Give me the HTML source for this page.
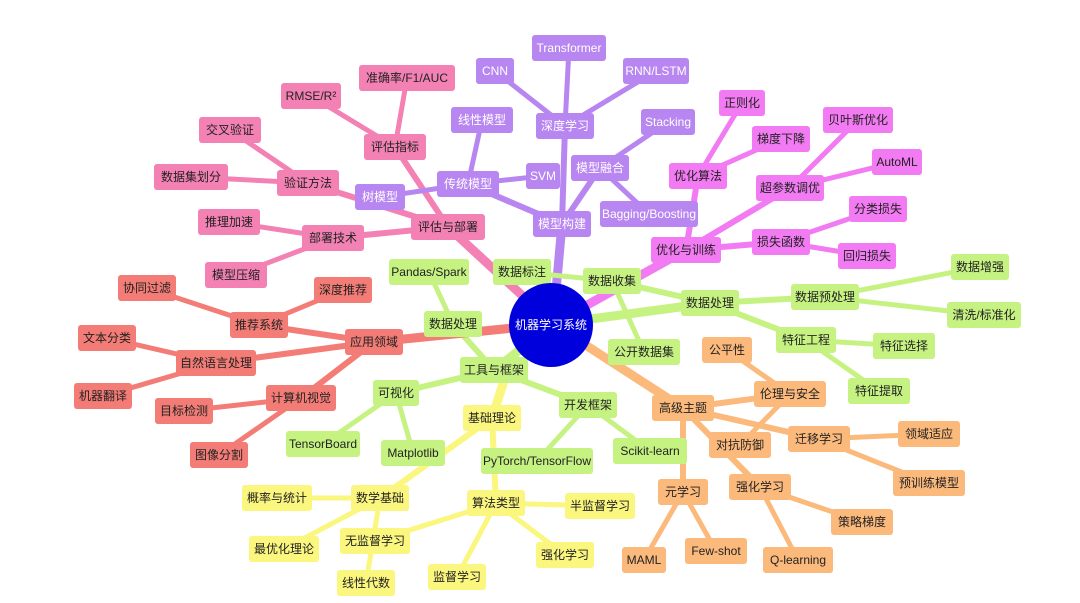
<!DOCTYPE html>
<html><head><meta charset="utf-8"><style>
html,body{margin:0;padding:0;background:#fff;}
svg{display:block;}
text{font-family:"Liberation Sans","Noto Sans CJK SC",sans-serif;font-size:12px;text-anchor:middle;fill:#222;}
.w{fill:#fff;}
line{stroke-linecap:round;}
.P line{stroke:#b886f0}.K line{stroke:#f481b4}.M line{stroke:#f27af2}.G line{stroke:#c6f282}.R line{stroke:#f47c76}.Y line{stroke:#faf67e}.O line{stroke:#fbb97c}
.P rect{fill:#b886f0}.K rect{fill:#f481b4}.M rect{fill:#f27af2}.G rect{fill:#c6f282}.R rect{fill:#f47c76}.Y rect{fill:#faf67e}.O rect{fill:#fbb97c}
rect{stroke:none}
</style></head><body>
<svg width="1080" height="603" viewBox="0 0 1080 603" xmlns="http://www.w3.org/2000/svg">
<!-- edges -->
<g class="K">
<line x1="553" y1="324" x2="448" y2="227" stroke-width="9"/>
<line x1="448" y1="227" x2="395" y2="147" stroke-width="6"/>
<line x1="395" y1="147" x2="311" y2="96" stroke-width="5"/>
<line x1="395" y1="147" x2="407" y2="78" stroke-width="5"/>
<line x1="448" y1="227" x2="308" y2="183" stroke-width="6"/>
<line x1="308" y1="183" x2="230" y2="130" stroke-width="5"/>
<line x1="308" y1="183" x2="191" y2="177" stroke-width="5"/>
<line x1="448" y1="227" x2="333" y2="238" stroke-width="6"/>
<line x1="333" y1="238" x2="229" y2="222" stroke-width="5"/>
<line x1="333" y1="238" x2="236" y2="275" stroke-width="5"/>
</g>
<g class="P">
<line x1="553" y1="324" x2="562" y2="224" stroke-width="9"/>
<line x1="562" y1="224" x2="468" y2="184" stroke-width="6"/>
<line x1="468" y1="184" x2="482" y2="120" stroke-width="5"/>
<line x1="468" y1="184" x2="543" y2="176" stroke-width="5"/>
<line x1="468" y1="184" x2="380" y2="197" stroke-width="5"/>
<line x1="562" y1="224" x2="565" y2="126" stroke-width="6"/>
<line x1="565" y1="126" x2="495" y2="71" stroke-width="5"/>
<line x1="565" y1="126" x2="569" y2="48" stroke-width="5"/>
<line x1="565" y1="126" x2="656" y2="71" stroke-width="5"/>
<line x1="562" y1="224" x2="600" y2="168" stroke-width="6"/>
<line x1="600" y1="168" x2="668" y2="122" stroke-width="5"/>
<line x1="600" y1="168" x2="649" y2="214" stroke-width="5"/>
</g>
<g class="M">
<line x1="553" y1="324" x2="686" y2="250" stroke-width="9"/>
<line x1="686" y1="250" x2="698" y2="176" stroke-width="6"/>
<line x1="698" y1="176" x2="742" y2="103" stroke-width="5"/>
<line x1="698" y1="176" x2="781" y2="139" stroke-width="5"/>
<line x1="686" y1="250" x2="790" y2="188" stroke-width="6"/>
<line x1="790" y1="188" x2="858" y2="120" stroke-width="5"/>
<line x1="790" y1="188" x2="897" y2="162" stroke-width="5"/>
<line x1="686" y1="250" x2="781" y2="242" stroke-width="6"/>
<line x1="781" y1="242" x2="878" y2="209" stroke-width="5"/>
<line x1="781" y1="242" x2="867" y2="256" stroke-width="5"/>
</g>
<g class="G">
<line x1="553" y1="324" x2="710" y2="303" stroke-width="9"/>
<line x1="710" y1="303" x2="612" y2="281" stroke-width="6"/>
<line x1="612" y1="281" x2="522" y2="272" stroke-width="5"/>
<line x1="612" y1="281" x2="644" y2="352" stroke-width="5"/>
<line x1="710" y1="303" x2="825" y2="297" stroke-width="6"/>
<line x1="825" y1="297" x2="980" y2="267" stroke-width="5"/>
<line x1="825" y1="297" x2="984" y2="315" stroke-width="5"/>
<line x1="710" y1="303" x2="806" y2="340" stroke-width="6"/>
<line x1="806" y1="340" x2="904" y2="346" stroke-width="5"/>
<line x1="806" y1="340" x2="879" y2="391" stroke-width="5"/>
<line x1="553" y1="324" x2="494" y2="370" stroke-width="9"/>
<line x1="494" y1="370" x2="453" y2="324" stroke-width="6"/>
<line x1="453" y1="324" x2="429" y2="272" stroke-width="5"/>
<line x1="494" y1="370" x2="396" y2="393" stroke-width="6"/>
<line x1="396" y1="393" x2="323" y2="444" stroke-width="5"/>
<line x1="396" y1="393" x2="413" y2="453" stroke-width="5"/>
<line x1="494" y1="370" x2="588" y2="405" stroke-width="6"/>
<line x1="588" y1="405" x2="537" y2="461" stroke-width="5"/>
<line x1="588" y1="405" x2="650" y2="451" stroke-width="5"/>
</g>
<g class="R">
<line x1="553" y1="324" x2="374" y2="342" stroke-width="9"/>
<line x1="374" y1="342" x2="259" y2="325" stroke-width="6"/>
<line x1="259" y1="325" x2="147" y2="288" stroke-width="5"/>
<line x1="259" y1="325" x2="343" y2="290" stroke-width="5"/>
<line x1="374" y1="342" x2="216" y2="363" stroke-width="6"/>
<line x1="216" y1="363" x2="107" y2="338" stroke-width="5"/>
<line x1="216" y1="363" x2="103" y2="396" stroke-width="5"/>
<line x1="374" y1="342" x2="301" y2="398" stroke-width="6"/>
<line x1="301" y1="398" x2="184" y2="411" stroke-width="5"/>
<line x1="301" y1="398" x2="219" y2="455" stroke-width="5"/>
</g>
<g class="Y">
<line x1="510" y1="362" x2="492" y2="418" stroke-width="9"/>
<line x1="492" y1="418" x2="380" y2="498" stroke-width="6"/>
<line x1="380" y1="498" x2="277" y2="498" stroke-width="5"/>
<line x1="380" y1="498" x2="284" y2="549" stroke-width="5"/>
<line x1="380" y1="498" x2="366" y2="583" stroke-width="5"/>
<line x1="492" y1="418" x2="496" y2="503" stroke-width="6"/>
<line x1="496" y1="503" x2="600" y2="506" stroke-width="5"/>
<line x1="496" y1="503" x2="375" y2="541" stroke-width="5"/>
<line x1="496" y1="503" x2="565" y2="555" stroke-width="5"/>
<line x1="496" y1="503" x2="457" y2="577" stroke-width="5"/>
</g>
<g class="O">
<line x1="553" y1="324" x2="683" y2="408" stroke-width="9"/>
<line x1="683" y1="408" x2="790" y2="394" stroke-width="6"/>
<line x1="790" y1="394" x2="727" y2="350" stroke-width="5"/>
<line x1="790" y1="394" x2="740" y2="445" stroke-width="5"/>
<line x1="683" y1="408" x2="819" y2="439" stroke-width="6"/>
<line x1="819" y1="439" x2="929" y2="434" stroke-width="5"/>
<line x1="819" y1="439" x2="929" y2="483" stroke-width="5"/>
<line x1="683" y1="408" x2="683" y2="492" stroke-width="6"/>
<line x1="683" y1="492" x2="644" y2="560" stroke-width="5"/>
<line x1="683" y1="492" x2="716" y2="551" stroke-width="5"/>
<line x1="683" y1="408" x2="760" y2="487" stroke-width="6"/>
<line x1="760" y1="487" x2="862" y2="522" stroke-width="5"/>
<line x1="760" y1="487" x2="798" y2="560" stroke-width="5"/>
</g>
<!-- nodes -->
<g class="P">
<rect x="532" y="35" width="74" height="26" rx="3"/><text class="w" x="569" y="52">Transformer</text>
<rect x="476" y="58" width="38" height="26" rx="3"/><text class="w" x="495" y="75">CNN</text>
<rect x="623" y="58" width="66" height="26" rx="3"/><text class="w" x="656" y="75">RNN/LSTM</text>
<rect x="536" y="113" width="58" height="26" rx="3"/><text class="w" x="565" y="130">深度学习</text>
<rect x="451" y="107" width="62" height="26" rx="3"/><text class="w" x="482" y="124">线性模型</text>
<rect x="641" y="109" width="54" height="26" rx="3"/><text class="w" x="668" y="126">Stacking</text>
<rect x="526" y="163" width="34" height="26" rx="3"/><text class="w" x="543" y="180">SVM</text>
<rect x="437" y="171" width="62" height="26" rx="3"/><text class="w" x="468" y="188">传统模型</text>
<rect x="571" y="155" width="58" height="26" rx="3"/><text class="w" x="600" y="172">模型融合</text>
<rect x="355" y="184" width="50" height="26" rx="3"/><text class="w" x="380" y="201">树模型</text>
<rect x="600" y="201" width="98" height="26" rx="3"/><text class="w" x="649" y="218">Bagging/Boosting</text>
<rect x="533" y="211" width="58" height="26" rx="3"/><text class="w" x="562" y="228">模型构建</text>
</g>
<g class="K">
<rect x="359" y="65" width="96" height="26" rx="3"/><text x="407" y="82">准确率/F1/AUC</text>
<rect x="281" y="83" width="60" height="26" rx="3"/><text x="311" y="100">RMSE/R²</text>
<rect x="199" y="117" width="62" height="26" rx="3"/><text x="230" y="134">交叉验证</text>
<rect x="364" y="134" width="62" height="26" rx="3"/><text x="395" y="151">评估指标</text>
<rect x="154" y="164" width="74" height="26" rx="3"/><text x="191" y="181">数据集划分</text>
<rect x="277" y="170" width="62" height="26" rx="3"/><text x="308" y="187">验证方法</text>
<rect x="198" y="209" width="62" height="26" rx="3"/><text x="229" y="226">推理加速</text>
<rect x="302" y="225" width="62" height="26" rx="3"/><text x="333" y="242">部署技术</text>
<rect x="411" y="214" width="74" height="26" rx="3"/><text x="448" y="231">评估与部署</text>
<rect x="205" y="262" width="62" height="26" rx="3"/><text x="236" y="279">模型压缩</text>
</g>
<g class="M">
<rect x="719" y="90" width="46" height="26" rx="3"/><text x="742" y="107">正则化</text>
<rect x="752" y="126" width="58" height="26" rx="3"/><text x="781" y="143">梯度下降</text>
<rect x="823" y="107" width="70" height="26" rx="3"/><text x="858" y="124">贝叶斯优化</text>
<rect x="872" y="149" width="50" height="26" rx="3"/><text x="897" y="166">AutoML</text>
<rect x="669" y="163" width="58" height="26" rx="3"/><text x="698" y="180">优化算法</text>
<rect x="756" y="175" width="68" height="26" rx="3"/><text x="790" y="192">超参数调优</text>
<rect x="849" y="196" width="58" height="26" rx="3"/><text x="878" y="213">分类损失</text>
<rect x="752" y="229" width="58" height="26" rx="3"/><text x="781" y="246">损失函数</text>
<rect x="838" y="243" width="58" height="26" rx="3"/><text x="867" y="260">回归损失</text>
<rect x="651" y="237" width="70" height="26" rx="3"/><text x="686" y="254">优化与训练</text>
</g>
<g class="G">
<rect x="493" y="259" width="58" height="26" rx="3"/><text x="522" y="276">数据标注</text>
<rect x="583" y="268" width="58" height="26" rx="3"/><text x="612" y="285">数据收集</text>
<rect x="951" y="254" width="58" height="26" rx="3"/><text x="980" y="271">数据增强</text>
<rect x="681" y="290" width="58" height="26" rx="3"/><text x="710" y="307">数据处理</text>
<rect x="791" y="284" width="68" height="26" rx="3"/><text x="825" y="301">数据预处理</text>
<rect x="947" y="302" width="74" height="26" rx="3"/><text x="984" y="319">清洗/标准化</text>
<rect x="776" y="327" width="60" height="26" rx="3"/><text x="806" y="344">特征工程</text>
<rect x="873" y="333" width="62" height="26" rx="3"/><text x="904" y="350">特征选择</text>
<rect x="608" y="339" width="72" height="26" rx="3"/><text x="644" y="356">公开数据集</text>
<rect x="848" y="378" width="62" height="26" rx="3"/><text x="879" y="395">特征提取</text>
<rect x="389" y="259" width="80" height="26" rx="3"/><text x="429" y="276">Pandas/Spark</text>
<rect x="424" y="311" width="58" height="26" rx="3"/><text x="453" y="328">数据处理</text>
<rect x="460" y="357" width="68" height="26" rx="3"/><text x="494" y="374">工具与框架</text>
<rect x="373" y="380" width="46" height="26" rx="3"/><text x="396" y="397">可视化</text>
<rect x="559" y="392" width="58" height="26" rx="3"/><text x="588" y="409">开发框架</text>
<rect x="286" y="431" width="74" height="26" rx="3"/><text x="323" y="448">TensorBoard</text>
<rect x="381" y="440" width="64" height="26" rx="3"/><text x="413" y="457">Matplotlib</text>
<rect x="481" y="448" width="112" height="26" rx="3"/><text x="537" y="465">PyTorch/TensorFlow</text>
<rect x="613" y="438" width="74" height="26" rx="3"/><text x="650" y="455">Scikit-learn</text>
</g>
<g class="R">
<rect x="118" y="275" width="58" height="26" rx="3"/><text x="147" y="292">协同过滤</text>
<rect x="314" y="277" width="58" height="26" rx="3"/><text x="343" y="294">深度推荐</text>
<rect x="230" y="312" width="58" height="26" rx="3"/><text x="259" y="329">推荐系统</text>
<rect x="78" y="325" width="58" height="26" rx="3"/><text x="107" y="342">文本分类</text>
<rect x="345" y="329" width="58" height="26" rx="3"/><text x="374" y="346">应用领域</text>
<rect x="176" y="350" width="80" height="26" rx="3"/><text x="216" y="367">自然语言处理</text>
<rect x="74" y="383" width="58" height="26" rx="3"/><text x="103" y="400">机器翻译</text>
<rect x="155" y="398" width="58" height="26" rx="3"/><text x="184" y="415">目标检测</text>
<rect x="266" y="385" width="70" height="26" rx="3"/><text x="301" y="402">计算机视觉</text>
<rect x="190" y="442" width="58" height="26" rx="3"/><text x="219" y="459">图像分割</text>
</g>
<g class="Y">
<rect x="463" y="405" width="58" height="26" rx="3"/><text x="492" y="422">基础理论</text>
<rect x="242" y="485" width="70" height="26" rx="3"/><text x="277" y="502">概率与统计</text>
<rect x="351" y="485" width="58" height="26" rx="3"/><text x="380" y="502">数学基础</text>
<rect x="467" y="490" width="58" height="26" rx="3"/><text x="496" y="507">算法类型</text>
<rect x="565" y="493" width="70" height="26" rx="3"/><text x="600" y="510">半监督学习</text>
<rect x="249" y="536" width="70" height="26" rx="3"/><text x="284" y="553">最优化理论</text>
<rect x="340" y="528" width="70" height="26" rx="3"/><text x="375" y="545">无监督学习</text>
<rect x="536" y="542" width="58" height="26" rx="3"/><text x="565" y="559">强化学习</text>
<rect x="337" y="570" width="58" height="26" rx="3"/><text x="366" y="587">线性代数</text>
<rect x="428" y="564" width="58" height="26" rx="3"/><text x="457" y="581">监督学习</text>
</g>
<g class="O">
<rect x="702" y="337" width="50" height="26" rx="3"/><text x="727" y="354">公平性</text>
<rect x="754" y="381" width="72" height="26" rx="3"/><text x="790" y="398">伦理与安全</text>
<rect x="652" y="395" width="62" height="26" rx="3"/><text x="683" y="412">高级主题</text>
<rect x="709" y="432" width="62" height="26" rx="3"/><text x="740" y="449">对抗防御</text>
<rect x="788" y="426" width="62" height="26" rx="3"/><text x="819" y="443">迁移学习</text>
<rect x="898" y="421" width="62" height="26" rx="3"/><text x="929" y="438">领域适应</text>
<rect x="658" y="479" width="50" height="26" rx="3"/><text x="683" y="496">元学习</text>
<rect x="729" y="474" width="62" height="26" rx="3"/><text x="760" y="491">强化学习</text>
<rect x="893" y="470" width="72" height="26" rx="3"/><text x="929" y="487">预训练模型</text>
<rect x="831" y="509" width="62" height="26" rx="3"/><text x="862" y="526">策略梯度</text>
<rect x="622" y="547" width="44" height="26" rx="3"/><text x="644" y="564">MAML</text>
<rect x="685" y="538" width="62" height="26" rx="3"/><text x="716" y="555">Few-shot</text>
<rect x="763" y="547" width="70" height="26" rx="3"/><text x="798" y="564">Q-learning</text>
</g>
<ellipse cx="551" cy="325" rx="42" ry="42" fill="#0000dd"/>
<text class="w" x="551" y="329">机器学习系统</text>
</svg>
</body></html>
